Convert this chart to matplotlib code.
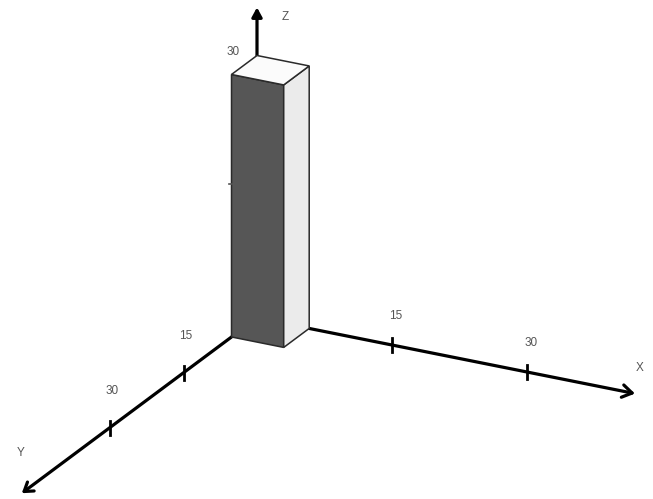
import matplotlib
matplotlib.use("Agg")
import matplotlib.pyplot as plt
from matplotlib.patches import Polygon

# ---- data ----
bar_values = [30]          # height of the single bar (z)
bar_size = [5.8, 5.2]      # footprint along x and y
x_ticks = [15, 30]
y_ticks = [15, 30]
z_ticks = [30]
axis_names = ["X", "Y", "Z"]
axis_ends = [42, 48, 35.5]

# ---- oblique projection (screen pixels, y down) ----
O = (257.0, 318.0)
EX = (9.0, 1.8)
EY = (-4.9, 3.65)
EZ = 8.75

def P(x, y, z):
    return (O[0] + x * EX[0] + y * EY[0], O[1] + x * EX[1] + y * EY[1] - z * EZ)

fig = plt.figure(figsize=(6.53, 4.99), dpi=100)
ax = fig.add_axes([0, 0, 1, 1])
ax.set_xlim(0, 653)
ax.set_ylim(499, 0)
ax.axis("off")

axis_lw = 2.3
txt_kw = dict(fontsize=8.5, color="#555555", family="Liberation Sans", ha="center", va="center")

# axes lines
ends = [P(axis_ends[0], 0, 0), P(0, axis_ends[1], 0), P(0, 0, axis_ends[2])]
styles = ["->,head_length=0.7,head_width=0.45", "->,head_length=0.6,head_width=0.4",
          "-|>,head_length=0.55,head_width=0.3"]
for end, st in zip(ends, styles):
    ax.annotate("", xy=end, xytext=O,
                arrowprops=dict(arrowstyle=st, lw=axis_lw, color="black",
                                shrinkA=0, shrinkB=0), zorder=2)

# ticks
for t in x_ticks:
    px, py = P(t, 0, 0)
    ax.plot([px, px], [py - 7, py + 7], color="black", lw=2, zorder=2)
    ax.text(px + 4, py - 29, str(t), **txt_kw)
for t in y_ticks:
    px, py = P(0, t, 0)
    ax.plot([px, px], [py - 7, py + 7], color="black", lw=2, zorder=2)
    ax.text(px + 2, py - 37, str(t), **txt_kw)
for t in z_ticks:
    px, py = P(0, 0, t)
    ax.text(px - 24, py - 4, str(t), **txt_kw)

# axis name labels
xe, ye, ze = ends
ax.text(xe[0] + 5, xe[1] - 26, axis_names[0], **txt_kw)
ax.text(ye[0] - 1, ye[1] - 40, axis_names[1], **txt_kw)
ax.text(ze[0] + 28, ze[1] + 10, axis_names[2], **txt_kw)

# the bar
a, b = bar_size
h = bar_values[0]
front = [P(0, b, 0), P(a, b, 0), P(a, b, h), P(0, b, h)]
right = [P(a, 0, 0), P(a, b, 0), P(a, b, h), P(a, 0, h)]
top = [P(0, 0, h), P(a, 0, h), P(a, b, h), P(0, b, h)]
for pts, fc in [(front, "#565656"), (right, "#ebebeb"), (top, "#fbfbfb")]:
    ax.add_patch(Polygon(pts, closed=True, facecolor=fc, edgecolor="#2a2a2a",
                         lw=1.1, zorder=5))

# small z-tick mark at mid height on the bar's left edge
mx, my = P(0, b, 15)
ax.plot([mx - 3, mx], [my - 22, my - 22], color="#555555", lw=1.2, zorder=6)

fig.savefig("out.png", dpi=100)
